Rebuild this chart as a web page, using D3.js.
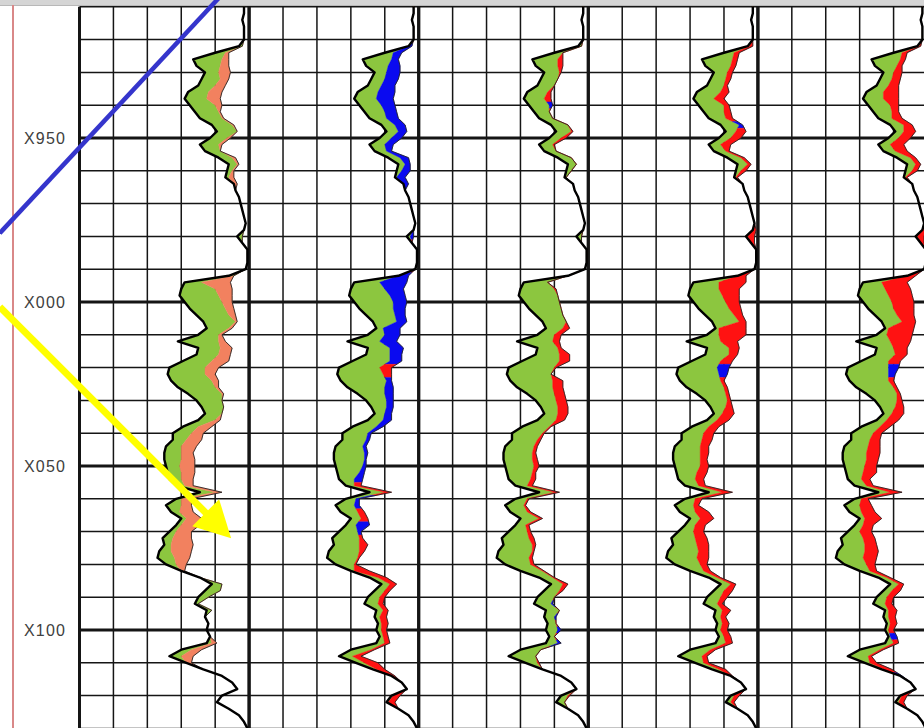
<!DOCTYPE html>
<html>
<head>
<meta charset="utf-8">
<script src="https://cdn.jsdelivr.net/npm/d3@7"></script>
<style>
  html, body { margin: 0; padding: 0; background: #fff; }
  svg { display: block; }
</style>
</head>
<body>
<svg id="chart" width="924" height="728"></svg>
<script>
// ---- Log samples: one value every 2 depth units from 1910 to 2130 ----
const DEPTH_TOP = 1910, DEPTH_BOTTOM = 2130, DEPTH_STEP = 2;
const depths = d3.range(DEPTH_TOP, DEPTH_BOTTOM + 1, DEPTH_STEP);

// Shared boundary curve (% of track width), drawn as the black line in every track
const baseCurve = [
  97,97,96,97,97,97,94,80,67,69,
  74,72,70,64,62,65,68,71,78,81,
  77,71,74,82,88,87,86,91,92,94,
  95,96,97,98,97,93,96,99,99,99,
  98,88,62,60,59,62,65,69,73,75,
  70,58,70,69,61,53,52,54,58,64,
  69,72,74,70,61,55,55,51,50,50,
  51,52,53,57,71,57,51,54,60,57,
  53,49,50,47,46,51,60,71,78,74,
  70,68,75,74,76,75,77,75,60,53,
  63,73,84,90,93,84,81,88,94,97,99
];

// Track 1: green and orange widths (% of track)
const greenT1 = [
  0,0,0,0,0,0,2,6,17,14,
  8,11,10,12,13,15,14,13,12,12,
  10,11,9,8,5,3,2,0,0,0,
  0,0,0,0,0,3,0,0,0,0,
  0,3,10,20,23,22,21,19,19,13,
  12,24,13,13,17,21,22,24,22,20,
  15,13,10,10,9,11,8,9,10,10,
  8,8,7,5,9,3,9,5,3,3,
  4,6,4,7,10,6,0,0,6,9,
  6,2,3,0,0,0,0,3,6,7,
  0,0,0,0,0,0,0,0,0,0,0
];
const orangeT1 = [
  0,0,0,0,0,0,0,2,4,5,
  7,5,6,8,8,4,1,1,1,0,
  2,2,0,2,1,1,3,2,0,0,
  0,0,0,0,0,0,0,0,0,0,
  0,0,17,10,8,6,5,4,1,2,
  2,4,7,7,10,8,6,4,2,1,
  0,0,0,3,8,7,9,9,7,8,
  9,8,7,5,4,6,6,8,9,11,
  9,11,13,12,9,6,2,0,0,0,
  0,0,0,0,0,0,0,3,6,7,
  3,0,0,0,0,0,0,0,0,0,0
];

// Track 2: green and second-layer widths (blue inside blueT2 intervals, red elsewhere)
const greenT2 = [
  0,0,0,0,0,0,0,5,17,13,
  7,8,8,12,13,13,12,10,8,7,
  7,9,7,7,4,3,1,0,0,0,
  0,0,0,0,0,2,0,0,0,0,
  0,0,15,20,24,23,20,17,14,4,
  10,19,13,14,22,24,27,27,22,16,
  12,9,6,9,14,15,14,16,18,18,
  16,13,9,5,9,6,11,10,6,6,
  11,16,15,18,18,11,2,5,5,6,
  7,8,4,3,2,3,2,5,12,8,
  5,2,0,0,0,1,1,0,0,0,0
];
const colorT2 = [
  0,0,0,0,0,0,2,5,4,7,
  8,8,8,10,10,8,7,7,6,5,
  6,5,3,5,3,5,5,3,0,0,
  0,0,0,0,0,2,0,0,0,0,
  0,6,16,11,9,8,7,6,6,10,
  9,10,8,7,7,7,5,3,5,5,
  4,4,4,5,4,2,2,2,2,1,
  2,3,5,4,4,2,3,4,4,8,
  2,2,5,3,1,1,9,5,4,3,
  3,3,3,4,4,3,3,3,2,5,
  8,5,2,0,0,4,4,0,0,0,0
];

// Track 3
const greenT3 = [
  0,0,0,0,0,0,2,5,15,13,
  9,10,10,12,12,12,9,8,10,9,
  7,8,7,8,5,3,1,0,0,0,
  0,0,0,0,0,3,0,0,0,0,
  0,0,14,20,23,21,19,16,14,10,
  10,21,12,14,22,27,26,25,21,16,
  12,10,8,11,16,18,15,17,17,17,
  17,15,13,7,9,7,11,10,11,6,
  11,16,17,20,19,15,13,8,7,9,
  10,10,8,6,5,7,3,7,12,16,
  7,0,0,0,0,4,5,0,0,0,0
];
const redT3 = [
  0,0,0,0,0,0,0,0,3,3,
  1,0,0,2,4,2,0,0,0,1,
  3,1,0,0,0,0,0,0,0,0,
  0,0,0,0,0,0,0,0,0,0,
  0,0,0,1,0,0,0,0,0,4,
  4,4,2,6,6,1,0,6,6,6,
  6,6,6,5,1,1,2,2,2,3,
  3,2,3,3,3,1,1,2,2,2,
  2,3,2,1,2,2,1,1,3,2,
  0,1,0,1,0,2,0,2,0,0,
  1,0,0,0,0,1,0,0,0,0,0
];

// Track 4
const greenT4 = [
  0,0,0,0,0,0,1,6,18,15,
  8,9,10,14,12,15,12,10,11,6,
  7,7,7,8,6,3,1,0,0,0,
  0,0,0,0,0,1,0,0,0,0,
  0,0,15,17,20,19,18,17,16,2,
  7,20,13,14,17,23,25,24,22,17,
  13,9,5,6,10,13,12,15,16,16,
  15,12,10,8,8,6,11,9,6,6,
  9,14,14,18,18,15,8,5,6,6,
  8,8,4,4,3,3,3,6,12,14,
  5,4,0,0,0,2,3,0,0,0,0
];
const redT4 = [
  0,0,0,0,0,0,2,3,3,3,
  3,3,2,5,6,3,4,4,2,6,
  6,6,2,2,2,3,1,0,0,0,
  0,0,0,0,2,4,2,0,0,0,
  0,5,16,12,10,8,7,5,4,16,
  16,10,6,5,7,7,5,2,2,2,
  2,4,7,7,6,6,6,5,5,4,
  5,6,5,4,6,4,3,8,8,6,
  6,7,7,6,7,4,4,2,3,5,
  4,3,5,3,4,4,4,4,3,3,
  3,4,1,0,0,3,2,0,0,0,0
];

// Track 5
const greenT5 = [
  0,0,0,0,0,0,1,5,17,13,
  6,7,7,10,12,13,11,8,8,5,
  6,7,7,8,5,4,1,0,0,0,
  0,0,0,0,0,1,0,0,0,0,
  0,0,11,15,18,17,15,13,12,2,
  6,20,10,12,16,24,25,23,22,18,
  13,9,5,6,11,13,11,14,14,14,
  12,10,8,7,7,4,9,7,3,5,
  7,13,13,16,16,13,6,5,5,5,
  6,7,2,3,2,2,1,5,12,12,
  3,1,0,0,0,1,2,0,0,0,0
];
const redT5 = [
  0,0,0,0,0,0,1,3,3,3,
  5,5,6,9,9,5,4,6,5,7,
  7,8,7,3,3,3,1,0,0,0,
  0,0,0,0,2,4,2,0,0,0,
  0,5,15,15,14,13,12,10,8,15,
  15,12,8,7,7,6,4,3,2,2,
  3,5,7,7,6,5,6,7,8,7,
  7,8,5,4,7,4,7,8,10,6,
  7,7,7,8,8,5,4,2,3,5,
  4,4,5,4,4,3,4,3,2,2,
  4,5,1,0,0,3,3,0,0,0,0
];

// Depth intervals where the second layer is blue instead of the track's main colour
const blueT1 = [];
const blueT2 = [[1922, 1980], [1992, 2018], [2024, 2054], [2060, 2062], [2068, 2070]];
const blueT3 = [[1940, 1940], [2092, 2092], [2096, 2096], [2100, 2100], [2104, 2104]];
const blueT4 = [[1946, 1946], [2020, 2022]];
const blueT5 = [[2020, 2022], [2102, 2102], [2114, 2114]];

// Depth labels and grid spacing
const labelDepths = [1950, 2000, 2050, 2100];
const gridStep = 10, majorStep = 50;
const trackDivisions = [0, 20, 40, 60, 80, 100];

// Annotation arrows, in track-1 percent / depth units
const blueStroke = [{ pct: -47, depth: 1979 }, { pct: 84.5, depth: 1906 }];
const yellowArrow = [{ pct: -47, depth: 2001.5 }, { pct: 89.4, depth: 2072 }];

const COLORS = {
  green: "#8cc63f", orange: "#f2815f", red: "#ff1212", blue: "#0a0af0",
  grid: "#151515", line: "#000"
};

const tracks = [
  { green: greenT1, color: orangeT1, main: COLORS.orange, blue: blueT1 },
  { green: greenT2, color: colorT2, main: COLORS.red, blue: blueT2 },
  { green: greenT3, color: redT3, main: COLORS.red, blue: blueT3 },
  { green: greenT4, color: redT4, main: COLORS.red, blue: blueT4 },
  { green: greenT5, color: redT5, main: COLORS.red, blue: blueT5 }
];

// ---- Layout ----
const W = 924, H = 728;
const svg = d3.select("#chart");
const y = d3.scaleLinear().domain([1950, 2100]).range([138, 630]);
const trackX = d3.scaleLinear().domain([0, 5]).range([79.5, 927.5]);
const trackScale = k => d3.scaleLinear().domain([0, 100]).range([trackX(k), trackX(k + 1)]);

svg.append("rect").attr("width", W).attr("height", H).attr("fill", "#fff");

svg.append("clipPath").attr("id", "plot-clip")
  .append("rect")
  .attr("x", trackX(0) - 2).attr("y", y(DEPTH_TOP) - 2)
  .attr("width", W - trackX(0) + 2).attr("height", H - y(DEPTH_TOP) + 2);

const plot = svg.append("g").attr("clip-path", "url(#plot-clip)");

// Grid: horizontal depth lines
const gridG = plot.append("g");
d3.range(DEPTH_TOP, DEPTH_BOTTOM + 1, gridStep).forEach(d => {
  gridG.append("line")
    .attr("x1", trackX(0)).attr("x2", W)
    .attr("y1", y(d)).attr("y2", y(d))
    .attr("stroke", COLORS.grid)
    .attr("stroke-width", d % majorStep === 0 ? 3.2 : 1.5);
});
// Grid: vertical divisions in each track
tracks.forEach((t, k) => {
  const xs = trackScale(k);
  trackDivisions.forEach(v => {
    const edge = v === 0 || v === 100;
    gridG.append("line")
      .attr("x1", xs(v)).attr("x2", xs(v))
      .attr("y1", y(DEPTH_TOP)).attr("y2", H)
      .attr("stroke", COLORS.grid)
      .attr("stroke-width", edge ? 3 : 1.5);
  });
});

// Midpoint between two samples, used to split colour runs cleanly
const mid = (a, b) => ({
  depth: (a.depth + b.depth) / 2, base: (a.base + b.base) / 2,
  g: (a.g + b.g) / 2, c: (a.c + b.c) / 2
});

function colorRuns(recs, blueIntervals) {
  const isBlue = r => blueIntervals.some(([a, b]) => r.depth >= a && r.depth <= b);
  const runs = [];
  let cur = null;
  recs.forEach((r, i) => {
    const b = isBlue(r);
    if (!cur || cur.blue !== b) { cur = { blue: b, idx: [] }; runs.push(cur); }
    cur.idx.push(i);
  });
  return runs.map(run => {
    const s = run.idx[0], e = run.idx[run.idx.length - 1];
    const pts = [];
    if (s > 0) pts.push(mid(recs[s - 1], recs[s]));
    for (let i = s; i <= e; i++) pts.push(recs[i]);
    if (e < recs.length - 1) pts.push(mid(recs[e], recs[e + 1]));
    return { blue: run.blue, pts };
  });
}

// Fills and curves per track
tracks.forEach((t, k) => {
  const xs = trackScale(k);
  const recs = depths.map((d, i) => ({ depth: d, base: baseCurve[i], g: t.green[i], c: t.color[i] }));
  const g = plot.append("g");

  const greenArea = d3.area()
    .y(r => y(r.depth))
    .x0(r => xs(r.base))
    .x1(r => xs(r.base + r.g));
  g.append("path").attr("d", greenArea(recs))
    .attr("fill", COLORS.green).attr("stroke", COLORS.green).attr("stroke-width", 0.4);

  const colorArea = d3.area()
    .y(r => y(r.depth))
    .x0(r => xs(r.base + r.g))
    .x1(r => xs(r.base + r.g + r.c));
  colorRuns(recs, t.blue).forEach(run => {
    const col = run.blue ? COLORS.blue : t.main;
    g.append("path").attr("d", colorArea(run.pts))
      .attr("fill", col).attr("stroke", col).attr("stroke-width", 0.4);
  });

  // thin outline on the outer edge of the fill
  g.append("path")
    .attr("d", d3.line().y(r => y(r.depth)).x(r => xs(r.base + r.g + r.c))(recs))
    .attr("fill", "none").attr("stroke", "#222").attr("stroke-width", 0.9);

  // main black curve
  g.append("path")
    .attr("d", d3.line().y(r => y(r.depth)).x(r => xs(r.base))(recs))
    .attr("fill", "none").attr("stroke", COLORS.line)
    .attr("stroke-width", 2.4).attr("stroke-linejoin", "round");
});

// Depth labels
const fmt = d => "X" + String(d % 1000).padStart(3, "0");
svg.append("g").selectAll("text").data(labelDepths).join("text")
  .attr("x", 24).attr("y", d => y(d) + 6)
  .attr("font-family", "'Liberation Sans', Arial, sans-serif")
  .attr("font-size", 16).attr("letter-spacing", 1.2)
  .attr("fill", "#404040")
  .text(fmt);

// Header strip and left margin line
svg.append("rect").attr("x", 0).attr("y", 0).attr("width", W).attr("height", 5).attr("fill", "#d5d5d5");
svg.append("line").attr("x1", 0).attr("x2", W).attr("y1", 5.5).attr("y2", 5.5)
  .attr("stroke", "#b8b8b8").attr("stroke-width", 1);
svg.append("line").attr("x1", 13).attr("x2", 13).attr("y1", 5).attr("y2", H)
  .attr("stroke", "#d98888").attr("stroke-width", 2);

// Annotation arrows
const xs0 = trackScale(0);
const pt = p => [xs0(p.pct), y(p.depth)];

const [b0, b1] = blueStroke.map(pt);
svg.append("line")
  .attr("x1", b0[0]).attr("y1", b0[1]).attr("x2", b1[0]).attr("y2", b1[1])
  .attr("stroke", "#3535cc").attr("stroke-width", 4.5);

const [a0, a1] = yellowArrow.map(pt);
const dx = a1[0] - a0[0], dy = a1[1] - a0[1];
const len = Math.hypot(dx, dy);
const ux = dx / len, uy = dy / len;
const headLen = 36, headHalf = 19;
const hb = [a1[0] - ux * headLen, a1[1] - uy * headLen];
svg.append("line")
  .attr("x1", a0[0]).attr("y1", a0[1]).attr("x2", hb[0] + ux * 2).attr("y2", hb[1] + uy * 2)
  .attr("stroke", "#ffff00").attr("stroke-width", 7);
svg.append("path")
  .attr("d", d3.line()([
    a1,
    [hb[0] - uy * headHalf, hb[1] + ux * headHalf],
    [hb[0] + uy * headHalf, hb[1] - ux * headHalf]
  ]) + "Z")
  .attr("fill", "#ffff00");
</script>
</body>
</html>
